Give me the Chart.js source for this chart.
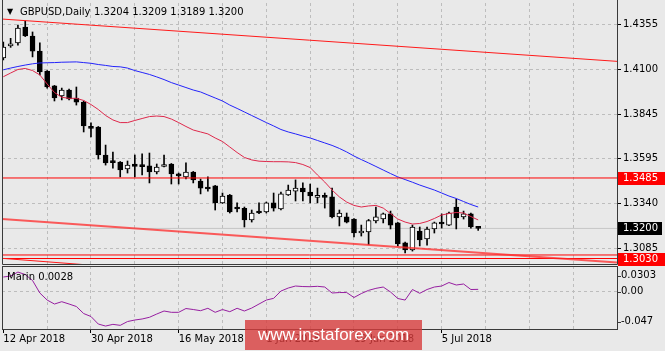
<!DOCTYPE html>
<html>
<head>
<meta charset="utf-8">
<title>GBPUSD Daily</title>
<script src="https://cdn.jsdelivr.net/npm/chart.js@4.4.1/dist/chart.umd.min.js"></script>
<style>
    html, body { margin: 0; padding: 0; background: #e9e9e9; }
    #wrap { position: relative; width: 665px; height: 351px; overflow: hidden; font-family: "DejaVu Sans", sans-serif; }
    canvas { position: absolute; left: 0; }
    #mainChart { top: 0; }
    #subChart { top: 266px; }
    .lbl { position: absolute; font-size: 10px; line-height: 12px; color: #000; white-space: nowrap; }
    #watermark { position: absolute; left: 245px; top: 320px; width: 177px; height: 30px; background: rgba(215, 60, 60, 0.8); color: #fff; font-family: "Liberation Sans", sans-serif; font-size: 17px; line-height: 30px; text-align: center; }
</style>
</head>
<body>
<div id="wrap">
    <canvas id="mainChart" width="665" height="266"></canvas>
    <canvas id="subChart" width="665" height="85"></canvas>
    <div class="lbl" style="left:7px; top:6px; font-size:8px;">&#9660;</div>
    <div class="lbl" style="left:20px; top:6px;">GBPUSD,Daily</div>
    <div class="lbl" style="left:94px; top:6px;" id="ohlcText"></div>
    <div class="lbl" style="left:7px; top:271px;" id="marinText"></div>
    <div id="watermark">www.instaforex.com</div>
</div>
<script>
// daily bars, 12 Apr 2018 -> 12 Jul 2018
var opens = [1.4163, 1.4231, 1.4248, 1.4338, 1.4287, 1.4202, 1.4089, 1.4005, 1.3948, 1.3982,
    1.3937, 1.3914, 1.3773, 1.3773, 1.3615, 1.3578, 1.3575, 1.3536, 1.3564, 1.3553,
    1.3553, 1.3519, 1.3550, 1.3564, 1.3508, 1.3491, 1.3519, 1.3468, 1.3434, 1.3440,
    1.3344, 1.3389, 1.3321, 1.3313, 1.3248, 1.3298, 1.3293, 1.3344, 1.3310, 1.3389,
    1.3411, 1.3428, 1.3406, 1.3375, 1.3380, 1.3378, 1.3265, 1.3265, 1.3253, 1.3174,
    1.3180, 1.3242, 1.3253, 1.3282, 1.3231, 1.3118, 1.3078, 1.3185, 1.3140, 1.3197,
    1.3228, 1.3219, 1.3321, 1.3265, 1.3282, 1.3204];
var highs = [1.4253, 1.4274, 1.4349, 1.4372, 1.4310, 1.4248, 1.4092, 1.4008, 1.3993, 1.3988,
    1.3999, 1.3920, 1.3796, 1.3776, 1.3671, 1.3632, 1.3578, 1.3581, 1.3615, 1.3621,
    1.3626, 1.3564, 1.3615, 1.3567, 1.3513, 1.3570, 1.3522, 1.3479, 1.3491, 1.3443,
    1.3400, 1.3392, 1.3344, 1.3321, 1.3304, 1.3344, 1.3349, 1.3400, 1.3406, 1.3445,
    1.3474, 1.3457, 1.3451, 1.3428, 1.3400, 1.3428, 1.3304, 1.3287, 1.3256, 1.3219,
    1.3251, 1.3321, 1.3287, 1.3298, 1.3234, 1.3123, 1.3219, 1.3208, 1.3208, 1.3236,
    1.3282, 1.3293, 1.3366, 1.3298, 1.3287, 1.3209];
var lows = [1.4152, 1.4223, 1.4236, 1.4284, 1.4169, 1.4067, 1.3993, 1.3920, 1.3926, 1.3926,
    1.3897, 1.3745, 1.3717, 1.3592, 1.3558, 1.3541, 1.3491, 1.3513, 1.3491, 1.3502,
    1.3457, 1.3508, 1.3547, 1.3451, 1.3451, 1.3479, 1.3457, 1.3395, 1.3411, 1.3304,
    1.3341, 1.3287, 1.3293, 1.3208, 1.3236, 1.3284, 1.3287, 1.3298, 1.3304, 1.3386,
    1.3355, 1.3355, 1.3344, 1.3344, 1.3315, 1.3259, 1.3214, 1.3231, 1.3152, 1.3157,
    1.3109, 1.3231, 1.3231, 1.3197, 1.3101, 1.3061, 1.3072, 1.3101, 1.3106, 1.3174,
    1.3202, 1.3216, 1.3197, 1.3253, 1.3202, 1.3189];
var closes = [1.4225, 1.4239, 1.4332, 1.4287, 1.4202, 1.4084, 1.3999, 1.3937, 1.3982, 1.3931,
    1.3914, 1.3779, 1.3765, 1.3615, 1.3570, 1.3572, 1.3530, 1.3558, 1.3550, 1.3549,
    1.3519, 1.3547, 1.3556, 1.3508, 1.3496, 1.3519, 1.3474, 1.3428, 1.3423, 1.3344,
    1.3383, 1.3293, 1.3310, 1.3248, 1.3287, 1.3287, 1.3344, 1.3315, 1.3395, 1.3417,
    1.3428, 1.3406, 1.3383, 1.3380, 1.3375, 1.3265, 1.3287, 1.3236, 1.3174, 1.3180,
    1.3245, 1.3265, 1.3282, 1.3219, 1.3112, 1.3078, 1.3208, 1.3135, 1.3197, 1.3231,
    1.3225, 1.3287, 1.3259, 1.3282, 1.3208, 1.3200];

// moving averages
var maFast = [1.4057, 1.4078, 1.4098, 1.4104, 1.4092, 1.4067, 1.4016, 1.3968, 1.3941, 1.3935,
    1.3935, 1.3923, 1.3900, 1.3872, 1.3838, 1.3813, 1.3798, 1.3798, 1.3810, 1.3821,
    1.3832, 1.3835, 1.3832, 1.3818, 1.3798, 1.3776, 1.3756, 1.3745, 1.3734, 1.3711,
    1.3691, 1.3660, 1.3629, 1.3601, 1.3587, 1.3580, 1.3578, 1.3577, 1.3577, 1.3576,
    1.3572, 1.3561, 1.3544, 1.3502, 1.3462, 1.3417, 1.3378, 1.3349, 1.3330, 1.3321,
    1.3327, 1.3330, 1.3315, 1.3284, 1.3253, 1.3236, 1.3225, 1.3228, 1.3239, 1.3256,
    1.3276, 1.3284, 1.3290, 1.3287, 1.3267, 1.3248];
var maSlow = [1.4096, 1.4106, 1.4115, 1.4123, 1.4130, 1.4135, 1.4136, 1.4137, 1.4139, 1.4140,
    1.4141, 1.4137, 1.4133, 1.4126, 1.4121, 1.4115, 1.4113, 1.4106, 1.4092, 1.4081,
    1.4070, 1.4056, 1.4041, 1.4024, 1.4010, 1.3996, 1.3982, 1.3971, 1.3954, 1.3937,
    1.3920, 1.3897, 1.3878, 1.3858, 1.3838, 1.3818, 1.3798, 1.3779, 1.3759, 1.3745,
    1.3734, 1.3722, 1.3711, 1.3697, 1.3683, 1.3669, 1.3652, 1.3632, 1.3609, 1.3589,
    1.3570, 1.3550, 1.3530, 1.3510, 1.3491, 1.3476, 1.3461, 1.3445, 1.3431, 1.3417,
    1.3400, 1.3383, 1.3369, 1.3352, 1.3335, 1.3321];

// lower window indicator
var marin = [0.0187, 0.0200, 0.0251, 0.0219, 0.0142, -0.0019, -0.0110, -0.0161, -0.0131, -0.0161,
    -0.0193, -0.0284, -0.0322, -0.0419, -0.0445, -0.0423, -0.0436, -0.0387, -0.0367, -0.0354,
    -0.0332, -0.0290, -0.0251, -0.0268, -0.0268, -0.0219, -0.0232, -0.0247, -0.0216, -0.0268,
    -0.0232, -0.0260, -0.0216, -0.0251, -0.0213, -0.0161, -0.0110, -0.0088, 0.0006, 0.0045,
    0.0071, 0.0064, 0.0062, 0.0067, 0.0058, -0.0019, -0.0013, -0.0013, -0.0077, -0.0026,
    0.0015, 0.0041, 0.0058, -0.0006, -0.0090, -0.0110, 0.0026, -0.0023, 0.0026, 0.0058,
    0.0071, 0.0116, 0.0084, 0.0097, 0.0026, 0.0028];

var dateLabels = ["12 Apr 2018", "30 Apr 2018", "16 May 2018", "1 Jun 2018", "19 Jun 2018", "5 Jul 2018"];
var dateIndex = [0, 12, 24, 36, 48, 60];
var priceTicks = [1.4355, 1.4100, 1.3845, 1.3595, 1.3340, 1.3085];
var marinTicks = [0.0303, 0, -0.047];
var marinTickLabels = ["0.0303", "0.00", "-0.047"];

// drawn objects: levels and channel lines (bar index, price)
var levels = [1.3485, 1.3050, 1.3030];
var lastPrice = 1.3200;
var channelTop = [[-0.18, 1.4383], [84, 1.4144]];
var channelMid = [[-0.18, 1.3253], [84, 1.3008]];
var channelLow = [[-0.18, 1.3031], [20, 1.2967]];
var priceBoxes = [1.3485, 1.3200, 1.3030];

var xMin = -0.18, xMax = 84;
var gridColor = "#bdbdbd";
var axisFont = { family: "DejaVu Sans", size: 10 };

function toPoints(arr) {
    return arr.map(function (v, i) {
        return { x: i, y: v };
    });
}

function pairPoints(pairs) {
    return pairs.map(function (p) {
        return { x: p[0], y: p[1] };
    });
}

function gridTicks(scale, from) {
    var t = [];
    for (var k = from; k <= 78; k += 6) {
        t.push({ value: k });
    }
    scale.ticks = t;
}

// keep the plot area exactly where the layout padding puts it
function noAutoPad(scale) {
    scale.paddingTop = 0;
    scale.paddingBottom = 0;
    scale.paddingLeft = 0;
    scale.paddingRight = 0;
}

function lineSet(data, color, width, order) {
    return {
        type: "line",
        data: data,
        borderColor: color,
        borderWidth: width,
        pointRadius: 0,
        tension: 0,
        order: order
    };
}

var n = opens.length;
document.getElementById("ohlcText").textContent = [opens[n - 1], highs[n - 1], lows[n - 1], closes[n - 1]].map(function (v) {
    return v.toFixed(4);
}).join(" ");
document.getElementById("marinText").textContent = "Marin " + marin[n - 1].toFixed(4);

var wickData = opens.map(function (o, i) {
    return { x: i, y: [lows[i], highs[i]] };
});
var bodyData = opens.map(function (o, i) {
    return { x: i, y: [o, closes[i]] };
});
var bodyColors = opens.map(function (o, i) {
    return closes[i] >= o ? "#ffffff" : "#000000";
});

var mainFrame = {
    id: "mainFrame",
    afterDraw: function (chart) {
        var c = chart.ctx;
        var a = chart.chartArea;
        var ys = chart.scales.y;
        c.save();
        c.strokeStyle = "#3a3a3a";
        c.lineWidth = 1;
        c.beginPath();
        c.moveTo(a.left + 0.5, 0);
        c.lineTo(a.left + 0.5, a.bottom - 0.5);
        c.lineTo(a.right + 0.5, a.bottom - 0.5);
        c.lineTo(a.right + 0.5, 0);
        c.stroke();

        c.font = "10px 'DejaVu Sans'";
        c.textBaseline = "middle";
        c.textAlign = "left";
        priceBoxes.forEach(function (v) {
            var py = Math.round(ys.getPixelForValue(v));
            var isLast = v === lastPrice;
            c.fillStyle = isLast ? "#000000" : "#ff0000";
            c.fillRect(a.right + 1, py - 6, isLast ? 44 : 48, 13);
            c.fillStyle = "#ffffff";
            c.fillText(v.toFixed(4), a.right + 6, py + 0.5);
        });
        c.restore();
    }
};

var subFrame = {
    id: "subFrame",
    afterDraw: function (chart) {
        var c = chart.ctx;
        var a = chart.chartArea;
        var ys = chart.scales.y;
        c.save();
        c.strokeStyle = "#3a3a3a";
        c.lineWidth = 1;
        c.strokeRect(a.left + 0.5, a.top + 0.5, a.right - a.left, a.bottom - a.top);

        c.font = "10px 'DejaVu Sans'";
        c.textBaseline = "middle";
        c.textAlign = "left";
        c.fillStyle = "#000";
        marinTicks.forEach(function (v, i) {
            var py = ys.getPixelForValue(v);
            py = Math.min(Math.max(py, a.top + 9.7), a.bottom - 7.3);
            c.beginPath();
            c.moveTo(a.right + 1, Math.round(py) + 0.5);
            c.lineTo(a.right + 4, Math.round(py) + 0.5);
            c.stroke();
            c.fillText(marinTickLabels[i], a.right + 4, py);
        });
        c.restore();
    }
};

var levelSets = levels.map(function (v) {
    return lineSet([{ x: xMin, y: v }, { x: xMax, y: v }], "#ff0000", 1, 1);
});

var mainChart = new Chart(document.getElementById("mainChart"), {
    type: "bar",
    data: {
        datasets: [
            lineSet([{ x: xMin, y: lastPrice }, { x: xMax, y: lastPrice }], "#c6c6c6", 1, 6),
            {
                data: wickData,
                backgroundColor: "#000000",
                borderWidth: 0,
                barThickness: 1,
                grouped: false,
                order: 5
            },
            {
                data: bodyData,
                backgroundColor: bodyColors,
                borderColor: "#000000",
                borderWidth: 1,
                borderSkipped: false,
                barThickness: 5,
                minBarLength: 2,
                grouped: false,
                order: 4
            },
            lineSet(toPoints(maSlow), "rgb(35,35,250)", 1, 3),
            lineSet(toPoints(maFast), "rgb(222,40,75)", 1, 2),
            lineSet(pairPoints(channelTop), "#ff1a1a", 1, 1),
            lineSet(pairPoints(channelMid), "rgba(255,40,40,0.75)", 2, 1),
            lineSet(pairPoints(channelLow), "#ff1a1a", 1, 1)
        ].concat(levelSets)
    },
    options: {
        responsive: false,
        animation: false,
        layout: { padding: { left: 2, top: 3, right: 0, bottom: 1 }, autoPadding: false },
        plugins: { legend: { display: false }, tooltip: { enabled: false } },
        scales: {
            x: {
                type: "linear",
                min: xMin,
                max: xMax,
                offset: false,
                afterBuildTicks: function (scale) { gridTicks(scale, 6); },
                afterFit: function (scale) { scale.height = 0; noAutoPad(scale); },
                ticks: { display: false },
                grid: { color: gridColor, drawTicks: false, offset: false },
                border: { display: false, dash: [3, 3] }
            },
            y: {
                position: "right",
                min: 1.299335,
                max: 1.447365,
                afterBuildTicks: function (scale) {
                    scale.ticks = priceTicks.map(function (v) { return { value: v }; });
                },
                afterFit: function (scale) { scale.width = 48; noAutoPad(scale); },
                ticks: {
                    color: "#000",
                    font: axisFont,
                    padding: 2,
                    callback: function (v) { return v.toFixed(4); }
                },
                grid: { color: gridColor, tickLength: 4, tickColor: "#000", tickBorderDash: [] },
                border: { display: false, dash: [3, 3] }
            }
        }
    },
    plugins: [mainFrame]
});

var subChart = new Chart(document.getElementById("subChart"), {
    type: "line",
    data: {
        datasets: [lineSet(toPoints(marin), "rgb(150,30,160)", 1, 1)]
    },
    options: {
        responsive: false,
        animation: false,
        layout: { padding: { left: 2, top: 0, right: 0, bottom: 0 }, autoPadding: false },
        plugins: { legend: { display: false }, tooltip: { enabled: false } },
        scales: {
            x: {
                type: "linear",
                min: xMin,
                max: xMax,
                afterBuildTicks: function (scale) { gridTicks(scale, 0); },
                afterFit: function (scale) { scale.height = 22; noAutoPad(scale); },
                ticks: {
                    autoSkip: false,
                    maxRotation: 0,
                    align: "start",
                    padding: 0,
                    color: "#000",
                    font: axisFont,
                    callback: function (v) {
                        var k = dateIndex.indexOf(v);
                        return k >= 0 ? dateLabels[k] : "";
                    }
                },
                grid: {
                    color: function (ctx) {
                        return ctx.tick && ctx.tick.value === 0 ? "rgba(0,0,0,0)" : gridColor;
                    },
                    tickLength: 4,
                    tickColor: function (ctx) {
                        return ctx.tick && dateIndex.indexOf(ctx.tick.value) >= 0 ? "#000" : "rgba(0,0,0,0)";
                    },
                    tickBorderDash: []
                },
                border: { display: false, dash: [3, 3] }
            },
            y: {
                position: "right",
                min: -0.0483,
                max: 0.0329,
                afterBuildTicks: function (scale) { scale.ticks = [{ value: 0 }]; },
                afterFit: function (scale) { scale.width = 48; noAutoPad(scale); },
                ticks: { display: false },
                grid: { color: gridColor, drawTicks: false },
                border: { display: false, dash: [3, 3] }
            }
        }
    },
    plugins: [subFrame]
});
</script>
</body>
</html>
